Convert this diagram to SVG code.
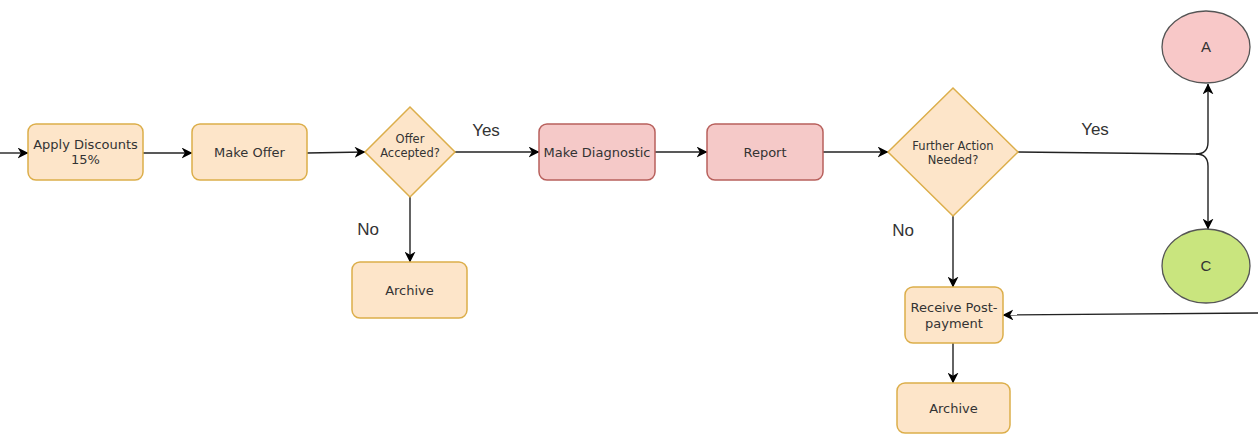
<svg xmlns="http://www.w3.org/2000/svg" width="1258" height="434" viewBox="0 0 1258 434">
  <defs>
    <marker id="arrow" viewBox="0 0 10 10" refX="9.5" refY="5" markerWidth="11" markerHeight="11" markerUnits="userSpaceOnUse" orient="auto">
      <path d="M0,0 L10,5 L0,10 L3,5 z" fill="#000"/>
    </marker>
    <style>
      .orange { fill: #fde5c9; stroke: #dcae4a; stroke-width: 1.5; }
      .pink { fill: #f5c9c8; stroke: #b8605c; stroke-width: 1.5; }
      .circA { fill: #f8c8c8; stroke: #555; stroke-width: 1.3; }
      .circC { fill: #c9e57e; stroke: #555; stroke-width: 1.3; }
      .lbl { font-family: "DejaVu Sans", Verdana, sans-serif; font-size: 13px; fill: #333; text-anchor: middle; }
      .dlbl { font-family: "DejaVu Sans", Verdana, sans-serif; font-size: 11.5px; fill: #333; text-anchor: middle; }
      .circ { font-family: "Liberation Sans", Arial, sans-serif; font-size: 15px; fill: #333; text-anchor: middle; }
      .edge { font-family: "Liberation Sans", Arial, sans-serif; font-size: 17px; fill: #333; text-anchor: middle; }
      .conn { fill: none; stroke: #222; stroke-width: 1.4; marker-end: url(#arrow); }
      .plain { fill: none; stroke: #222; stroke-width: 1.4; }
    </style>
  </defs>

  <rect width="1258" height="434" fill="#ffffff"/>

  <!-- connectors -->
  <g id="connectors">
    <path class="conn" d="M0,153 L28,153"/>
    <path class="conn" d="M143,153 L192,153"/>
    <path class="conn" d="M307,153 L365,152"/>
    <path class="conn" d="M455,152 L539,152"/>
    <path class="conn" d="M655,152 L707,152"/>
    <path class="conn" d="M823,152 L888,152"/>
    <path class="conn" d="M410,197 L410,262"/>
    <path class="conn" d="M953,216 L953,287"/>
    <path class="conn" d="M953,343 L953,383"/>
    <path class="conn" d="M1258,313 L1003,315"/>
    <!-- Yes branch splitting to A and C -->
    <path class="plain" d="M1018,152 L1196,154"/>
    <path class="conn" d="M1196,154 Q1208,154 1208,142 L1208,84"/>
    <path class="conn" d="M1196,154 Q1208,154 1208,166 L1208,229"/>
    <text class="edge" x="486" y="136">Yes</text>
    <text class="edge" x="1095" y="135">Yes</text>
    <text class="edge" x="368" y="235">No</text>
    <text class="edge" x="903" y="236">No</text>
  </g>

  <g id="apply-discounts">
    <rect class="orange" x="28" y="124" width="115" height="56" rx="8"/>
    <text class="lbl" x="85.5" y="149">Apply Discounts</text>
    <text class="lbl" x="85.5" y="164">15%</text>
  </g>

  <g id="make-offer">
    <rect class="orange" x="192" y="124" width="115" height="56" rx="8"/>
    <text class="lbl" x="249.5" y="157">Make Offer</text>
  </g>

  <g id="offer-accepted">
    <polygon class="orange" points="410,107 455,152 410,197 365,152"/>
    <text class="dlbl" x="410" y="143">Offer</text>
    <text class="dlbl" x="410" y="157">Accepted?</text>
  </g>

  <g id="make-diagnostic">
    <rect class="pink" x="539" y="124" width="116" height="56" rx="8"/>
    <text class="lbl" x="597" y="157">Make Diagnostic</text>
  </g>

  <g id="report">
    <rect class="pink" x="707" y="124" width="116" height="56" rx="8"/>
    <text class="lbl" x="765" y="157">Report</text>
  </g>

  <g id="further-action">
    <polygon class="orange" points="953,88 1018,152 953,216 888,152"/>
    <text class="dlbl" x="953" y="150">Further Action</text>
    <text class="dlbl" x="953" y="164">Needed?</text>
  </g>

  <g id="node-a">
    <ellipse class="circA" cx="1206" cy="47" rx="44" ry="36"/>
    <text class="circ" x="1206" y="52">A</text>
  </g>

  <g id="node-c">
    <ellipse class="circC" cx="1206" cy="266" rx="44" ry="37"/>
    <text class="circ" x="1206" y="271">C</text>
  </g>

  <g id="archive-1">
    <rect class="orange" x="352" y="262" width="115" height="56" rx="8"/>
    <text class="lbl" x="409.5" y="295">Archive</text>
  </g>

  <g id="receive-post-payment">
    <rect class="orange" x="905" y="287" width="98" height="56" rx="8"/>
    <text class="lbl" x="954" y="312">Receive Post-</text>
    <text class="lbl" x="954" y="328">payment</text>
  </g>

  <g id="archive-2">
    <rect class="orange" x="897" y="383" width="113" height="50" rx="8"/>
    <text class="lbl" x="953.5" y="413">Archive</text>
  </g>
</svg>
